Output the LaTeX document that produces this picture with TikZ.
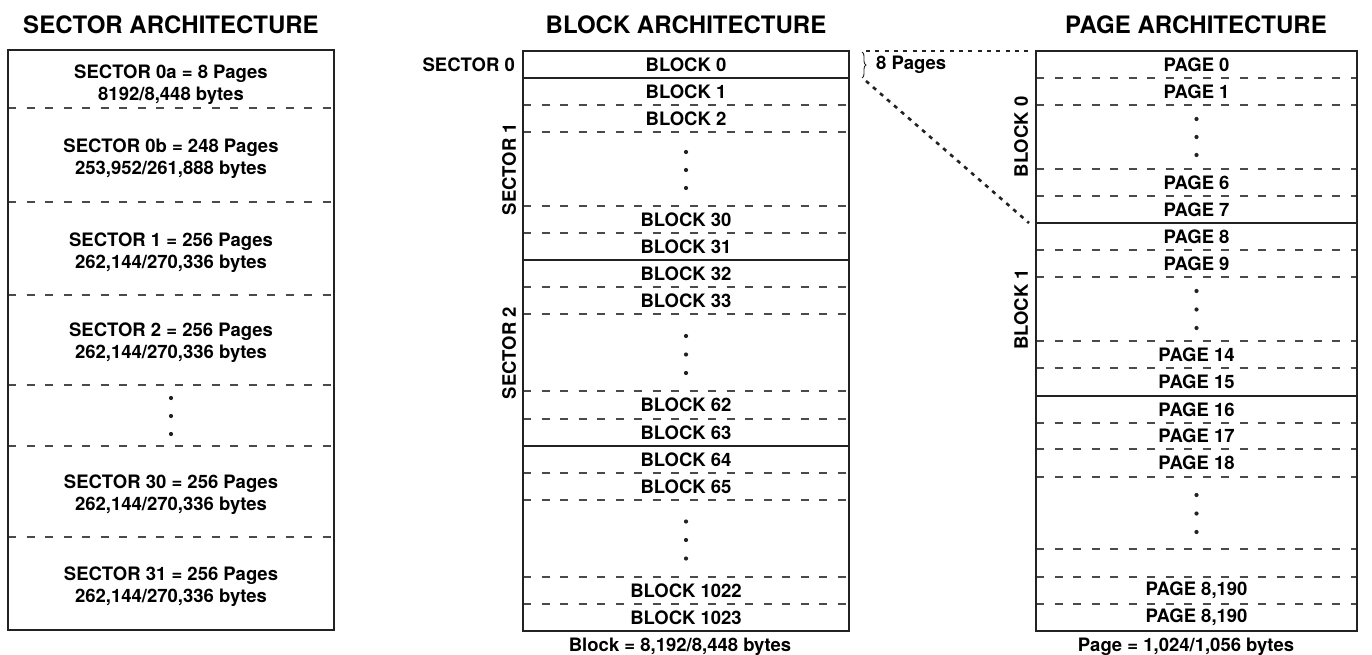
\documentclass[tikz,border=0pt]{standalone}
\usepackage{fontspec}
\setmainfont{TeX Gyre Heros}
\usetikzlibrary{decorations.pathreplacing}
\newcommand{\bodyf}{\fontsize{18.5}{22}\selectfont\bfseries}
\newcommand{\titlef}{\fontsize{24}{28}\selectfont\bfseries}
\definecolor{ink}{HTML}{222222}
\definecolor{dashc}{HTML}{4a4a4a}
\begin{document}
\begin{tikzpicture}[x=1pt,y=-1pt,
  frame/.style={draw=ink, line width=2.9pt},
  solidsep/.style={draw=ink, line width=2.4pt},
  dashsep/.style={draw=dashc, line width=1.5pt, dash pattern=on 8pt off 10.5pt},
  lbl/.style={font=\bodyf, text=black, inner sep=0pt, align=center},
  ttl/.style={font=\titlef, text=black, inner sep=0pt},
  dotc/.style={draw=ink, line width=2.6pt, dash pattern=on 4pt off 5.3pt},
  vdot/.style={fill=ink},
  bracec/.style={draw=ink, line width=0.9pt, decorate, decoration={brace, amplitude=4pt}}
]
\useasboundingbox (0,0) rectangle (1372,655);

% ---------- titles ----------
\node[ttl, anchor=base] (t1) at (171,33.5) {SECTOR ARCHITECTURE};
\node[ttl, anchor=base] (t2) at (686,33.5) {BLOCK ARCHITECTURE};
\node[ttl, anchor=base] (t3) at (1196,33.5) {PAGE ARCHITECTURE};

% ---------- sector architecture ----------
\foreach \y in {108,202,295,385,446,537} \draw[dashsep] (8,\y) -- (334,\y);
\draw[frame] (8,50) rectangle (334,630);
\node[lbl] (s0a) at (171,85) {SECTOR 0a = 8 Pages\\8192/8,448 bytes};
\node[lbl] (s0b) at (171,158.5) {SECTOR 0b = 248 Pages\\253,952/261,888 bytes};
\node[lbl] (s1) at (171,253) {SECTOR 1 = 256 Pages\\262,144/270,336 bytes};
\node[lbl] (s2) at (171,343) {SECTOR 2 = 256 Pages\\262,144/270,336 bytes};
\node[lbl] (s30) at (171,495) {SECTOR 30 = 256 Pages\\262,144/270,336 bytes};
\node[lbl] (s31) at (171,587) {SECTOR 31 = 256 Pages\\262,144/270,336 bytes};
\foreach \y in {398,416,434} \fill[vdot] (171,\y) circle (2.1pt);

% ---------- block architecture ----------
\foreach \y in {105,132,206,233,287,314,391,419,473,500,577,604} \draw[dashsep] (523,\y) -- (849,\y);
\foreach \y in {78,260,446} \draw[solidsep] (523,\y) -- (849,\y);
\draw[frame] (523,51) rectangle (849,631);
\foreach \n/\y in {0/64.5,1/91.5,2/118.5,30/219.5,31/246.5,32/273.5,33/300.5,62/405,63/432.5,64/459.5,65/486.5,1022/590.5,1023/617.5}
  \node[lbl] (b\n) at (686,\y) {BLOCK \n};
\foreach \y in {152,170,188,336,354.5,373,521.5,540,558.5} \fill[vdot] (686,\y) circle (2.1pt);
\node[lbl, anchor=east] (sec0) at (515,64.5) {SECTOR 0};
\node[lbl, rotate=90] (sec1) at (509,169) {SECTOR 1};
\node[lbl, rotate=90] (sec2) at (509,353) {SECTOR 2};
\node[lbl, anchor=base] (bsize) at (680,651) {Block = 8,192/8,448 bytes};

% ---------- brace and zoom lines ----------
\coordinate (brtop) at (862,52);
\coordinate (brbot) at (862,78);
\draw[bracec] (brtop) -- (brbot);
\node[lbl, anchor=base west] (eightp) at (876,70) {8 Pages};
\coordinate (ztop) at (866,51);
\coordinate (zbot) at (866,81);
\coordinate (ptl) at (1029,51);
\coordinate (pbl) at (1029,223);
\draw[dotc] (ztop) -- (ptl);
\draw[dotc] (zbot) -- (pbl);

% ---------- page architecture ----------
\foreach \y in {78,105,169,196,250,277,341,368,423,449,477,549,577,604} \draw[dashsep] (1036,\y) -- (1357,\y);
\foreach \y in {223,396} \draw[solidsep] (1036,\y) -- (1357,\y);
\draw[frame] (1036,51) rectangle (1357,631);
\foreach \n/\y in {0/64.5,1/91.5,6/182.5,7/209.5,8/236.5,9/263.5,14/354.5,15/382,16/409.5,17/436,18/463}
  \node[lbl] (p\n) at (1196.5,\y) {PAGE \n};
\node[lbl] (pa) at (1196.5,590.5) {PAGE 8,190};
\node[lbl] (pb) at (1196.5,617.5) {PAGE 8,190};
\foreach \y in {119,137,155,291,309.5,328,495,513.5,532} \fill[vdot] (1196.5,\y) circle (2.1pt);
\node[lbl, rotate=90] (blk0) at (1021,137) {BLOCK 0};
\node[lbl, rotate=90] (blk1) at (1021,309.5) {BLOCK 1};
\node[lbl, anchor=base] (psize) at (1186,651) {Page = 1,024/1,056 bytes};
\end{tikzpicture}
\end{document}
